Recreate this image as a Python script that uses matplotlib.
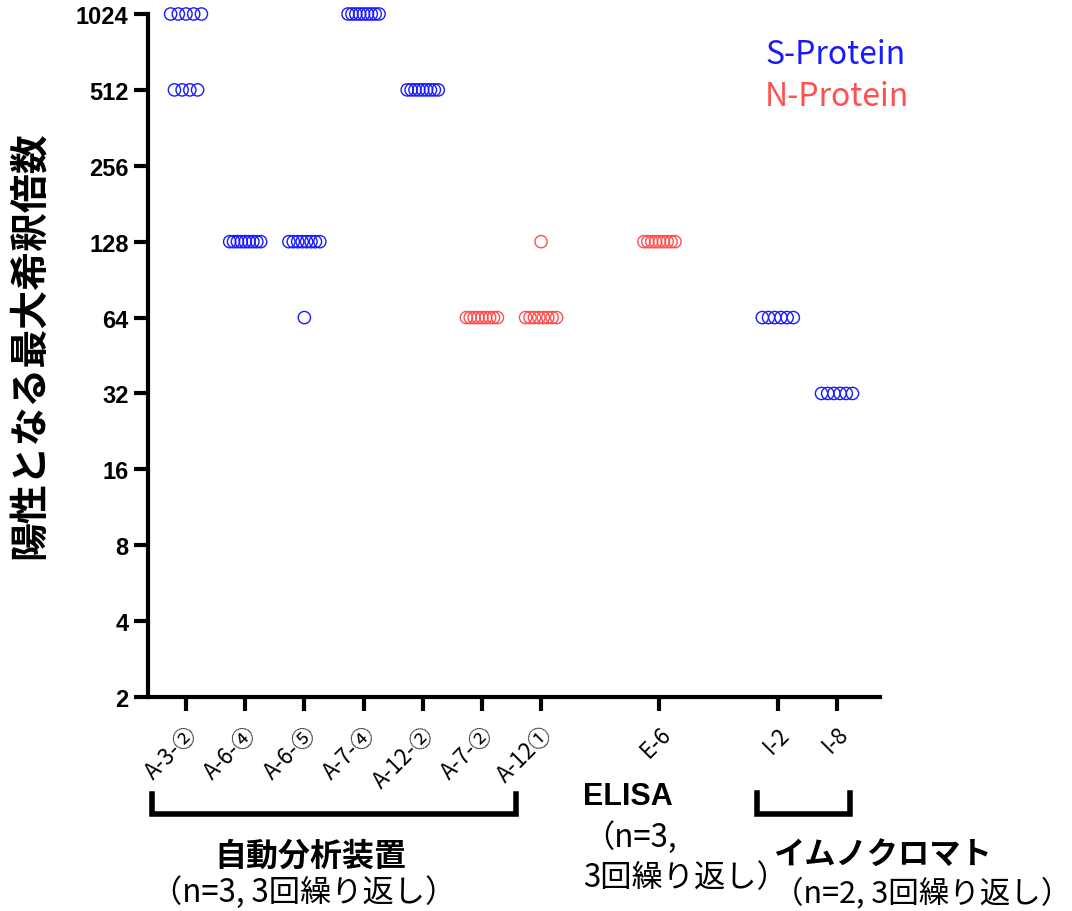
import numpy as np
import matplotlib
matplotlib.use("Agg")
import matplotlib.pyplot as plt
from matplotlib.lines import Line2D

plt.rcParams['font.family'] = ['Noto Sans CJK JP', 'DejaVu Sans']

# data
labels = ['A-3-②', 'A-6-④', 'A-6-⑤', 'A-7-④', 'A-12-②', 'A-7-②', 'A-12①', 'E-6', 'I-2', 'I-8']
positions = [1, 2, 3, 4, 5, 6, 7, 9, 11, 12]
protein = ['S', 'S', 'S', 'S', 'S', 'N', 'N', 'N', 'S', 'S']
titers = [
    [1024, 1024, 1024, 1024, 1024, 512, 512, 512, 512],
    [128] * 9,
    [128] * 8 + [64],
    [1024] * 9,
    [512] * 9,
    [64] * 9,
    [128] + [64] * 8,
    [128] * 9,
    [64] * 6,
    [32] * 6,
]
yticks = [2, 4, 8, 16, 32, 64, 128, 256, 512, 1024]
colors = {'S': '#1a1aff', 'N': '#ff4f4f'}

W, H = 1072, 912
fig = plt.figure(figsize=(W / 100, H / 100), dpi=100)
ax = fig.add_axes([148 / W, 1 - 698 / H, (880 - 148) / W, (698 - 15) / H])

px_per_unit = (837 - 186) / 11.0

for x, vals, p in zip(positions, titers, protein):
    vals = np.array(vals)
    for v in np.unique(vals):
        n = int((vals == v).sum())
        if n > 1:
            step = min(7.7, 31.0 / (n - 1)) / px_per_unit
            offs = (np.arange(n) - (n - 1) / 2) * step
        else:
            offs = np.zeros(1)
        ax.scatter(x + offs, [v] * n, s=78, facecolors='none',
                   edgecolors=colors[p], linewidths=1.0, clip_on=False, zorder=3)

ax.set_yscale('log', base=2)
ax.set_ylim(2, 1024)
ax.set_xlim(1 - 38 / px_per_unit, 12 + 43 / px_per_unit)
ax.set_yticks(yticks)
ax.set_yticklabels([str(t) for t in yticks], family='Liberation Sans',
                   fontweight='bold', fontsize=17)
ax.yaxis.set_minor_locator(matplotlib.ticker.NullLocator())
ax.set_xticks(positions)
ax.set_xticklabels(labels, rotation=45, ha='right', va='top',
                   rotation_mode='anchor', fontsize=16,
                   family=['Noto Sans CJK JP', 'DejaVu Sans'])

for s in ['top', 'right']:
    ax.spines[s].set_visible(False)
for s in ['left', 'bottom']:
    ax.spines[s].set_linewidth(3)
ax.tick_params(axis='y', length=10, width=3, pad=4)
ax.tick_params(axis='x', length=10, width=3, pad=8)

ax.set_ylabel('陽性となる最大希釈倍数', fontsize=28, fontweight='bold')
ax.yaxis.set_label_coords(-0.134, 0.517)

# legend text
ax.text(765 / W, 1 - 55 / H, 'S-Protein', transform=fig.transFigure,
        color=colors['S'], fontsize=23, va='center', ha='left')
ax.text(765 / W, 1 - 97 / H, 'N-Protein', transform=fig.transFigure,
        color=colors['N'], fontsize=23, va='center', ha='left')

# brackets
def bracket(x0, x1, ytop, ybot):
    fig.add_artist(Line2D([x0 / W, x0 / W, x1 / W, x1 / W],
                          [1 - ytop / H, 1 - ybot / H, 1 - ybot / H, 1 - ytop / H],
                          color='black', lw=4, solid_joinstyle='miter'))

bracket(152, 516, 795, 815)
bracket(757, 850, 794, 815)

fig.text(310 / W, 1 - 857 / H, '自動分析装置', fontsize=23, fontweight='bold',
         ha='center', va='center')
fig.text(304 / W, 1 - 893 / H, '（n=3, 3回繰り返し）', fontsize=22.5,
         ha='center', va='center')
fig.text(583 / W, 1 - 797 / H, 'ELISA', fontsize=22, fontweight='bold',
         family='Liberation Sans', ha='left', va='center')
fig.text(583 / W, 1 - 838 / H, '（n=3,', fontsize=22.5, ha='left', va='center')
fig.text(583 / W, 1 - 878 / H, '3回繰り返し）', fontsize=22.5, ha='left', va='center')
fig.text(882 / W, 1 - 855 / H, 'イムノクロマト', fontsize=22.5, fontweight='bold',
         ha='center', va='center')
fig.text(922 / W, 1 - 893 / H, '（n=2, 3回繰り返し）', fontsize=22,
         ha='center', va='center')

fig.savefig('out.png', dpi=100)
